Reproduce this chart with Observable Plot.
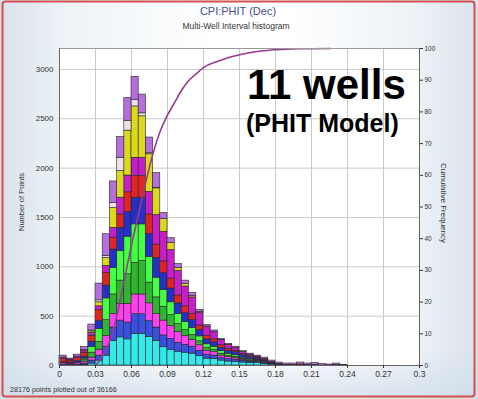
<!DOCTYPE html>
<html>
<head>
<meta charset="utf-8">
<script src="https://cdn.jsdelivr.net/npm/d3@7"></script>
<script src="https://cdn.jsdelivr.net/npm/@observablehq/plot@0.6"></script>
<style>
  html, body { margin: 0; padding: 0; background: #ffffff; }
  #chart { width: 478px; height: 399px; }
</style>
</head>
<body>
<div id="chart"></div>
<script>
// ---- data ----
const BIN = 0.006; // histogram bin width
const wells = ["Well 1","Well 2","Well 3","Well 4","Well 5","Well 6","Well 7","Well 8","Well 9","Well 10","Well 11"];
const wellColors = ["#35e8ea","#3a4fe0","#ff3ff0","#2fb52f","#45ff45","#2430c8","#e02424","#c61fc9","#dcd81e","#eee0e8","#b56fdc"];

const well1  = [0,0,0,5,20,50,100,250,285,265,320,320,290,250,185,160,140,130,120,95,70,65,50,40,35,30,25,25,15,10,5,0,0,0,0,0,0,0,0,0];
const well2  = [10,10,10,15,30,50,90,135,170,170,200,200,160,135,120,110,90,80,70,55,40,35,25,25,25,20,15,15,10,10,5,0,5,0,0,5,0,0,0,0];
const well3  = [15,10,15,20,30,60,110,135,170,190,200,200,180,135,150,130,110,90,70,55,40,35,25,20,15,10,5,5,5,0,0,0,0,0,0,0,0,0,0,0];
const well4  = [0,0,5,15,50,80,160,200,235,300,320,340,210,170,140,110,80,60,50,40,30,25,20,15,15,10,10,5,5,0,0,0,0,0,0,0,0,0,0,0];
const well5  = [0,0,0,15,60,130,220,270,300,380,390,370,260,200,170,130,100,80,70,50,35,30,25,20,15,10,10,5,5,0,0,0,0,0,0,0,0,0,0,0];
const well6  = [10,10,15,20,50,80,130,185,235,250,270,270,230,200,170,140,110,90,80,65,50,45,35,30,30,25,20,15,10,5,0,0,0,0,0,0,0,0,0,0];
const well7  = [30,20,30,40,60,110,130,120,135,200,220,220,200,135,120,100,80,70,60,45,35,30,25,20,15,10,10,10,10,5,5,5,0,10,5,0,0,0,5,0];
const well8  = [15,10,15,20,30,40,70,100,170,170,185,185,230,300,300,290,250,200,170,130,90,75,55,40,30,20,15,10,5,5,0,0,0,0,0,0,0,0,0,0];
const well9  = [0,0,0,5,15,40,80,200,270,455,520,420,380,270,130,70,30,25,15,10,5,0,0,0,0,0,0,0,0,0,0,0,0,0,0,0,0,0,0,0];
const well10 = [0,0,0,0,10,20,20,50,135,100,65,30,10,5,0,0,0,0,0,0,0,0,0,0,0,0,0,0,0,0,0,0,0,0,0,0,0,0,0,0];
const well11 = [20,10,20,35,60,170,220,220,210,230,235,190,160,150,60,50,40,35,30,20,15,15,10,10,10,10,10,10,15,15,15,15,15,20,15,20,15,10,15,5];

// cumulative frequency curve (percent)
const cumX   = [0.03,0.036,0.042,0.048,0.054,0.06,0.066,0.072,0.078,0.084,0.09,0.096,0.102,0.108,0.114,0.12,0.132,0.144,0.156,0.168,0.18,0.2,0.226];
const cumPct = [0,3,8,16,27,38,48,58,67,74,79,83,87,90,92,94,96,97.5,98.5,99.2,99.6,99.9,100];

// axes
const xTicks = [0,0.03,0.06,0.09,0.12,0.15,0.18,0.21,0.24,0.27,0.3];
const xTickLabels = ["0","0.03","0.06","0.09","0.12","0.15","0.18","0.21","0.24","0.27","0.3"];
const yTicks = [0,500,1000,1500,2000,2500,3000];
const yTickLabels = ["0","500","1000","1500","2000","2500","3000"];
const rightTicks = [0,10,20,30,40,50,60,70,80,90,100];
const YMAX = 3212; // left axis top, aligned with 100% on the right axis

// texts
const titleText = "CPI:PHIT (Dec)";
const subtitleText = "Multi-Well Interval histogram";
const footText = "28176 points plotted out of 36166";
const bigText = "11 wells";
const bigText2 = "(PHIT Model)";

// ---- build tables ----
const seriesList = [well1,well2,well3,well4,well5,well6,well7,well8,well9,well10,well11];
const rows = [];
seriesList.forEach((vals, k) => {
  vals.forEach((c, i) => {
    if (c > 0) rows.push({well: wells[k], x1: i * BIN, x2: (i + 1) * BIN, count: c});
  });
});
const cum = cumX.map((x, i) => ({x, pct: cumPct[i]}));

const svg = Plot.plot({
  width: 478,
  height: 399,
  marginLeft: 59,
  marginRight: 59,
  marginTop: 48,
  marginBottom: 34,
  x: {domain: [0, 0.3]},
  y: {domain: [0, YMAX]},
  color: {domain: wells, range: wellColors},
  style: {
    fontFamily: "'Liberation Sans', Arial, sans-serif",
    fontSize: "8px",
    color: "#333",
    overflow: "visible",
    background: "linear-gradient(to bottom, rgba(255,255,255,0) 88%, rgba(205,218,232,0.7) 100%), linear-gradient(to right, #d9e3ec 0%, #eef3f7 14%, #ffffff 45%, #ffffff 60%, #eef3f7 86%, #d9e3ec 100%)"
  },
  marks: [
    Plot.frame({fill: "white", stroke: null}),
    Plot.gridX(xTicks, {stroke: "#c9c9c9", strokeOpacity: 1}),
    Plot.gridY(yTicks, {stroke: "#c9c9c9", strokeOpacity: 1}),
    Plot.rectY(rows, {x1: "x1", x2: "x2", y: "count", fill: "well", order: wells, stroke: "#262626", strokeWidth: 0.6}),
    Plot.line(cum, {x: "x", y: d => d.pct / 100 * YMAX, stroke: "#983a8e", strokeWidth: 1.6, curve: "monotone-x"}),
    Plot.frame({stroke: "#9a9a9a"}),
    Plot.ruleX([0, 0.3], {stroke: "#666"}),
    Plot.ruleY([0], {stroke: "#666"}),
    Plot.axisX(xTicks, {tickSize: 3, tickPadding: 2, label: null, fontSize: 8.5, tickFormat: (d, i) => xTickLabels[i]}),
    Plot.axisY(yTicks, {anchor: "left", tickSize: 0, tickPadding: 6, label: null, fontSize: 8, tickFormat: (d, i) => yTickLabels[i]}),
    Plot.axisY(rightTicks.map(t => t / 100 * YMAX), {anchor: "right", tickSize: 3, tickPadding: 2, label: null, fontSize: 6.5, tickFormat: (d, i) => String(rightTicks[i])})
  ]
});

const s = d3.select(svg);
// red outer border
s.append("rect").attr("x", 2.5).attr("y", 1.5).attr("width", 472).attr("height", 395)
  .attr("rx", 3).attr("fill", "none").attr("stroke", "#d24f4f").attr("stroke-width", 2);
// titles
s.append("text").attr("x", 238).attr("y", 15).attr("text-anchor", "middle")
  .attr("font-size", 11).attr("fill", "#4a4a92").text(titleText);
s.append("text").attr("x", 236).attr("y", 29).attr("text-anchor", "middle")
  .attr("font-size", 8.5).attr("fill", "#333").text(subtitleText);
// axis labels
s.append("text").attr("transform", "translate(24,202) rotate(-90)").attr("text-anchor", "middle")
  .attr("font-size", 7.5).attr("fill", "#333").text("Number of Points");
s.append("text").attr("transform", "translate(441,203) rotate(90)").attr("text-anchor", "middle")
  .attr("font-size", 8).attr("fill", "#333").text("Cumulative Frequency");
// footer
s.append("text").attr("x", 10).attr("y", 392).attr("text-anchor", "start")
  .attr("font-size", 7.2).attr("fill", "#333").text(footText);
// annotation
s.append("text").attr("x", 247).attr("y", 99).attr("text-anchor", "start").attr("font-size", 42).attr("font-weight", "bold")
  .attr("fill", "#000").attr("font-family", "'Liberation Sans', Arial, sans-serif").text(bigText);
s.append("text").attr("x", 246).attr("y", 132).attr("text-anchor", "start").attr("font-size", 25).attr("font-weight", "bold")
  .attr("fill", "#000").attr("font-family", "'Liberation Sans', Arial, sans-serif").text(bigText2);

document.getElementById("chart").appendChild(svg);
</script>
</body>
</html>
